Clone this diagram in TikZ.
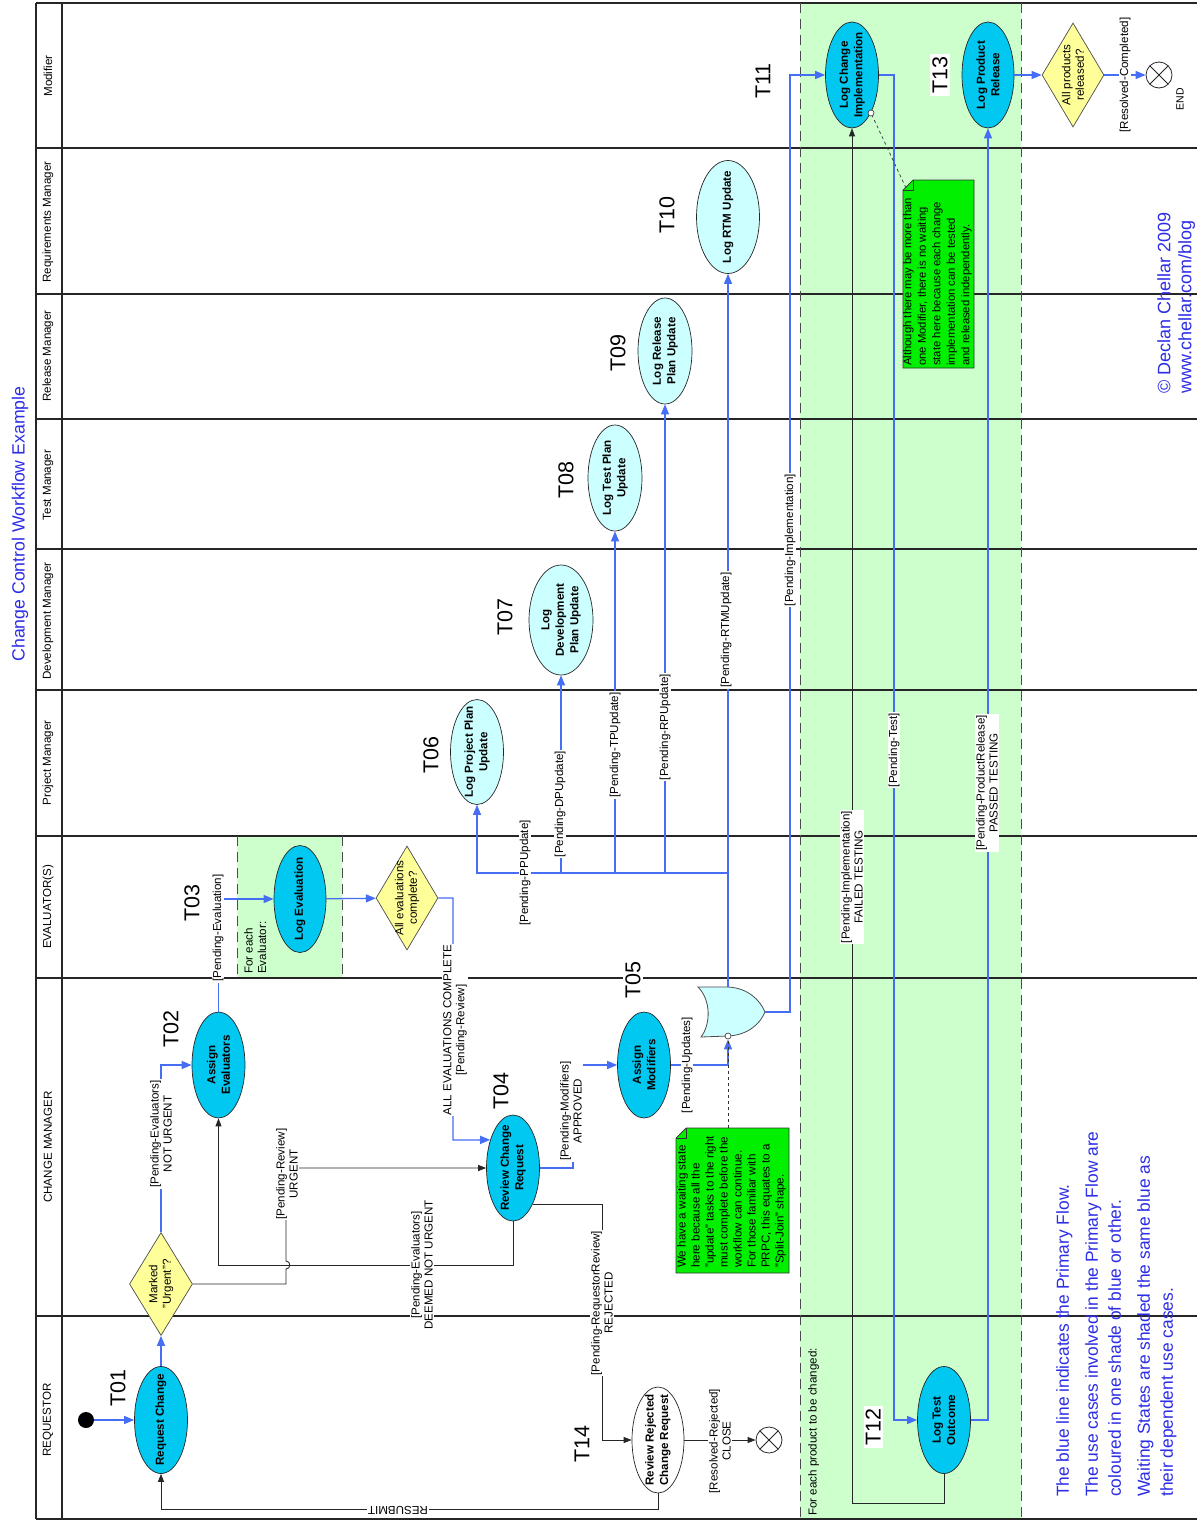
\documentclass[tikz,border=0pt]{standalone}
\usepackage{fontspec}
\setmainfont{Liberation Sans}
\usetikzlibrary{shapes.geometric,arrows.meta,calc}
\definecolor{ucdark}{RGB}{0,200,240}
\definecolor{uclight}{RGB}{204,255,255}
\definecolor{decyel}{RGB}{255,255,153}
\definecolor{waitgreen}{RGB}{204,255,204}
\definecolor{notegreen}{RGB}{0,240,0}
\definecolor{flowblue}{RGB}{70,110,245}
\definecolor{textblue}{RGB}{45,45,230}
\begin{document}
\begin{tikzpicture}[x=1pt,y=-1pt,
 lanes/.style={draw=black!85,line width=1.3pt},
 ucd/.style={ellipse,draw=black!85,line width=0.7pt,fill=ucdark,rotate=90,inner sep=0pt},
 ucl/.style={ucd,fill=uclight},
 ucw/.style={ucd,fill=white},
 uct/.style={rotate=90,align=center,inner sep=0pt,font=\fontsize{11.6}{14.5}\selectfont\bfseries},
 dec/.style={diamond,draw=black!70,line width=0.7pt,fill=decyel,rotate=90,inner sep=0pt},
 dect/.style={rotate=90,align=center,inner sep=0pt,font=\fontsize{11.6}{13.5}\selectfont},
 tlab/.style={rotate=90,fill=white,inner sep=2pt,font=\fontsize{21.5}{24}\selectfont},
 elab/.style={rotate=90,fill=white,inner sep=1pt,align=center,font=\fontsize{11.6}{13}\selectfont},
 lanelab/.style={rotate=90,font=\fontsize{11.6}{13}\selectfont},
 blu/.style={draw=flowblue,line width=1.3pt,-{Triangle[length=10pt,width=8pt]}},
 bline/.style={draw=flowblue,line width=1.3pt},
 blk/.style={draw=black!85,line width=0.9pt,-{Triangle[length=8pt,width=6pt]}},
 endnode/.style={circle,draw=black!85,line width=0.8pt,fill=white,minimum size=26pt,inner sep=0pt,
   path picture={\draw[black!85,line width=0.8pt] (path picture bounding box.north west) -- (path picture bounding box.south east) (path picture bounding box.north east) -- (path picture bounding box.south west);}},
 notetext/.style={rotate=90,align=left,inner sep=0pt,anchor=north west,font=\fontsize{11.6}{14}\selectfont},
 notebox/.style={fill=notegreen,draw=black!80,line width=0.7pt},
 waitedge/.style={draw=black!70,line width=1pt,dash pattern=on 10pt off 6pt},
 pin/.style={circle,draw=black!80,fill=white,line width=0.6pt,minimum size=6pt,inner sep=0pt},
 bluetext/.style={text=textblue},
]
\useasboundingbox (0,0) rectangle (1197,1521);
\fill[white] (0,0) rectangle (1197,1521);
% waiting-state regions
\fill[waitgreen] (800,3) rectangle (1021,1519);
\fill[waitgreen] (237,836) rectangle (342,978);
% swimlanes
\foreach \yy in {3,148,294,419,549,690,836,978,1316,1519} {\draw[lanes] (36,\yy) -- (1197,\yy);}
\draw[lanes] (36,3) -- (36,1519);
\draw[lanes] (62,3) -- (62,1519);
\draw[waitedge] (800,3) -- (800,1519);
\draw[waitedge] (1021,3) -- (1021,1519);
\draw[waitedge] (237,836) -- (237,978);
\draw[waitedge] (342,836) -- (342,978);
% title and lane labels
\node[rotate=90,bluetext,font=\fontsize{17.7}{20}\selectfont] (title) at (20,524) {Change Control Workflow Example};
\node[lanelab] (L1) at (48,76) {Modifier};
\node[lanelab] (L2) at (48,222) {Requirements Manager};
\node[lanelab] (L3) at (48,356) {Release Manager};
\node[lanelab] (L4) at (48,485) {Test Manager};
\node[lanelab] (L5) at (48,621) {Development Manager};
\node[lanelab] (L6) at (48,763) {Project Manager};
\node[lanelab] (L7) at (48,907) {EVALUATOR(S)};
\node[lanelab] (L8) at (48,1147) {CHANGE MANAGER};
\node[lanelab] (L9) at (48,1420) {REQUESTOR};
% notes
\draw[notebox] (686,1128) -- (789,1128) -- (789,1273) -- (676,1273) -- (676,1138) -- cycle;
\draw[black!80,line width=0.7pt] (686,1128) -- (686,1138) -- (676,1138);
\node[notetext] (n1t) at (677,1268) {We have a waiting state\\here because all the\\"update" tasks to the right\\must complete before the\\workflow can continue.\\For those familiar with\\PRPC, this equates to a\\"Split-Join" shape.};
\coordinate (n1c) at (728,1128);
\draw[notebox] (913,180) -- (974,180) -- (974,368) -- (903,368) -- (903,190) -- cycle;
\draw[black!80,line width=0.7pt] (913,180) -- (913,190) -- (903,190);
\node[notetext,font=\fontsize{11.3}{14.5}\selectfont] (n2t) at (903,366) {Although there may be more than\\one Modifier, there is no waiting\\state here because each change\\implementation can be tested\\and released independently.};
\coordinate (n2c) at (906,188);
% other texts
\node[notetext,font=\fontsize{11.6}{13.5}\selectfont] (fe1) at (244,974) {For each\\Evaluator:};
\node[notetext,font=\fontsize{11.6}{13.5}\selectfont] (fe2) at (808,1516) {For each product to be changed:};
\node[notetext,bluetext,font=\fontsize{17.4}{23}\selectfont] (legend) at (1056,1497) {The blue line indicates the Primary Flow.\\[6pt]The use cases involved in the Primary Flow are\\coloured in one shade of blue or other.\\[6pt]Waiting States are shaded the same blue as\\their dependent use cases.};
\node[notetext,bluetext,font=\fontsize{18}{21}\selectfont] (copy) at (1157,394) {\textcopyright{} Declan Chellar 2009\\www.chellar.com/blog};
% start / end
\node[circle,fill=black,minimum size=16pt,inner sep=0pt] (start) at (86,1420) {};
\node[endnode] (endr) at (769,1440) {};
\node[endnode] (endc) at (1159,75) {};
\node[rotate=90,font=\fontsize{10.5}{12}\selectfont] (endlab) at (1180,99) {END};
% use cases
\node[ucd,minimum width=107pt,minimum height=53pt] (rc) at (161,1420) {};
\node[uct] (rc-t) at (rc) {Request Change};
\node[ucd,minimum width=106pt,minimum height=53pt] (ae) at (218.5,1065) {};
\node[uct] (ae-t) at (ae) {Assign\\Evaluators};
\node[ucd,minimum width=107pt,minimum height=52pt] (le) at (300,899) {};
\node[uct] (le-t) at (le) {Log Evaluation};
\node[ucd,minimum width=106pt,minimum height=53pt] (rcr) at (513,1168) {};
\node[uct] (rcr-t) at (rcr) {Review Change\\Request};
\node[ucd,minimum width=106pt,minimum height=53pt] (am) at (644,1065) {};
\node[uct] (am-t) at (am) {Assign\\Modifiers};
\node[ucw,minimum width=106pt,minimum height=52pt] (rrc) at (658,1440) {};
\node[uct] (rrc-t) at (rrc) {Review Rejected\\Change Request};
\node[ucl,minimum width=105pt,minimum height=53pt] (lpp) at (477,752) {};
\node[uct] (lpp-t) at (lpp) {Log Project Plan\\Update};
\node[ucl,minimum width=110pt,minimum height=64pt] (ldp) at (561,620) {};
\node[uct] (ldp-t) at (ldp) {Log\\Development\\Plan Update};
\node[ucl,minimum width=106pt,minimum height=54pt] (ltp) at (615,478) {};
\node[uct] (ltp-t) at (ltp) {Log Test Plan\\Update};
\node[ucl,minimum width=106pt,minimum height=54pt] (lrp) at (665,351) {};
\node[uct] (lrp-t) at (lrp) {Log Release\\Plan Update};
\node[ucl,minimum width=113pt,minimum height=63pt] (lrtm) at (728,217) {};
\node[uct] (lrtm-t) at (lrtm) {Log RTM Update};
\node[ucd,minimum width=106pt,minimum height=53pt] (lci) at (852,75) {};
\node[uct] (lci-t) at (lci) {Log Change\\Implementation};
\node[ucd,minimum width=106pt,minimum height=52pt] (lpr) at (988,75) {};
\node[uct] (lpr-t) at (lpr) {Log Product\\Release};
\node[ucd,minimum width=107pt,minimum height=53pt] (lto) at (944,1420) {};
\node[uct] (lto-t) at (lto) {Log Test\\Outcome};
% decisions
\node[dec,minimum width=103pt,minimum height=63pt] (d1) at (161,1284) {};
\node[dect] (d1-t) at (d1) {Marked\\"Urgent"?};
\node[dec,minimum width=104pt,minimum height=62pt] (d2) at (407,898) {};
\node[dect] (d2-t) at (d2) {All evaluations\\complete?};
\node[dec,minimum width=104pt,minimum height=62pt] (d3) at (1073,75) {};
\node[dect] (d3-t) at (d3) {All products\\released?};
% split-join gate
\filldraw[fill=uclight,draw=black!70,line width=0.8pt] (698,987) -- (728,987) .. controls (748,988) and (760,1000) .. (765,1012) .. controls (760,1024) and (748,1035) .. (728,1036) -- (701,1037) .. controls (711,1024) and (711,1000) .. (698,987) -- cycle;
\coordinate (gateT) at (728,987);
\coordinate (gateO) at (765,1012);
\coordinate (bus) at (728,873);
\node[pin] (gcirc) at (728,1036) {};
\node[pin] (c2) at (871,113) {};
% primary (blue) flow
\draw[blu] (start) -- (rc);
\draw[blu] (rc) -- (d1);
\draw[blu] (d1) |- (ae);
\draw[blu] (ae) |- (le);
\draw[blu] (le) -- (d2);
\draw[blu] (d2) -| (453,1140) -- (rcr.39);
\draw[blu] (rcr.south) -| (573,1065) -- (am);
\draw[blu] (am) -| (gcirc);
\draw[blu] (gateT) -- (lrtm);
\draw[bline,line width=2.2pt] (gateT) -- (bus) -- (bus -| lpp);
\draw[blu] (bus) -| (lpp);
\draw[blu] (bus -| ldp) -- (ldp);
\draw[blu] (bus -| ltp) -- (ltp);
\draw[blu] (bus -| lrp) -- (lrp);
\draw[blu] (gateO) -| (790,75) -- (lci);
\draw[blu] (lci.south) -| (894,1420) -- (lto);
\draw[blu] (lto.south) -| (lpr);
\draw[blu] (lpr) -- (d3);
\draw[blu] (d3) -- (endc);
% secondary (black) flow
\draw[blk] (d1.south) -- (286,1284) -- (286,1269) .. controls (291,1269) and (291,1261) .. (286,1261) -- (286,1168) -- (rcr);
\draw[blk] (rcr.west) -- ++(0,44) -| (ae);
\draw[blk] (rcr.208) -| (602,1440) -- (rrc);
\draw[blk] (rrc) -- (endr);
\draw[blk] (rrc.west) -- ++(0,16) -| (rc);
\draw[blk] (lto.west) -- ++(0,30) -| (lci);
% note connectors
\draw[black!80,line width=0.7pt,dashed] (n1c) -- (gcirc);
\draw[black!80,line width=0.7pt,dashed] (n2c) -- (c2);
% edge labels
\node[elab] (e1) at (161,1134) {[Pending-Evaluators]\\NOT URGENT};
\node[elab] (e2) at (218,928) {[Pending-Evaluation]};
\node[elab] (e3) at (455,1030) {ALL EVALUATIONS COMPLETE\\{}[Pending-Review]};
\node[elab] (e4) at (287,1174) {[Pending-Review]\\URGENT};
\node[elab] (e5) at (422,1265) {[Pending-Evaluators]\\DEEMED NOT URGENT};
\node[elab] (e6) at (571,1111) {[Pending-Modifiers]\\APPROVED};
\node[elab] (e7) at (602,1303) {[Pending-RequestorReview]\\REJECTED};
\node[elab] (e8) at (720,1441) {[Resolved-Rejected]\\CLOSE};
\node[elab,rotate=90] (e9) at (398,1510) {RESUBMIT};
\node[elab] (e10) at (687,1065) {[Pending-Updates]};
\node[elab] (e11) at (525,873) {[Pending-PPUpdate]};
\node[elab] (e12) at (560,804) {[Pending-DPUpdate]};
\node[elab] (e13) at (615,745) {[Pending-TPUpdate]};
\node[elab] (e14) at (665,727) {[Pending-RPUpdate]};
\node[elab] (e15) at (726,630) {[Pending-RTMUpdate]};
\node[elab] (e16) at (790,540) {[Pending-Implementation]};
\node[elab] (e17) at (894,750) {[Pending-Test]};
\node[elab] (e18) at (852,877) {[Pending-Implementation]\\FAILED TESTING};
\node[elab] (e19) at (987,783) {[Pending-ProductRelease]\\PASSED TESTING};
\node[elab] (e20) at (1125,75) {[Resolved-Completed]};
% task ids
\node[tlab] (T01) at (118,1388) {T01};
\node[tlab] (T02) at (171,1029) {T02};
\node[tlab] (T03) at (192,903) {T03};
\node[tlab] (T04) at (501,1091) {T04};
\node[tlab] (T05) at (633,980) {T05};
\node[tlab] (T06) at (431,755) {T06};
\node[tlab] (T07) at (505,617) {T07};
\node[tlab] (T08) at (566,480) {T08};
\node[tlab] (T09) at (618,353) {T09};
\node[tlab] (T10) at (667,215) {T10};
\node[tlab] (T11) at (763,81) {T11};
\node[tlab] (T12) at (873,1427) {T12};
\node[tlab] (T13) at (940,75) {T13};
\node[tlab] (T14) at (582,1444) {T14};
\end{tikzpicture}
\end{document}
